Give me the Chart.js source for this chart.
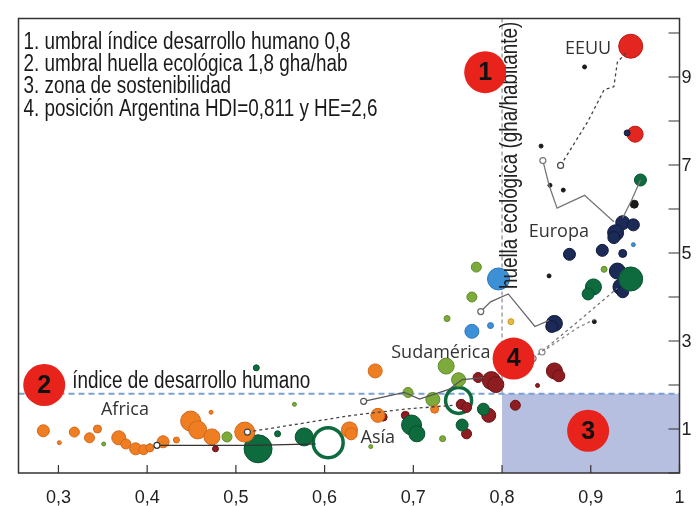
<!DOCTYPE html>
<html>
<head>
<meta charset="utf-8">
<script src="https://cdn.jsdelivr.net/npm/chart.js@4.4.0/dist/chart.umd.min.js"></script>
<style>
  html, body { margin: 0; padding: 0; background: #fff; }
  canvas { display: block; }
</style>
</head>
<body>
<canvas id="hdiChart" width="698" height="506"></canvas>
<script>
// ejes
const xTicks = [0.3, 0.4, 0.5, 0.6, 0.7, 0.8, 0.9, 1];
const yTicks = [1, 3, 5, 7, 9];
const yMinorTicks = [0, 2, 4, 6, 8, 10];
const hdiLimit = 0.8;   // umbral IDH
const heLimit = 1.8;    // umbral huella ecológica

// países: [IDH, huella (gha/hab), tamaño burbuja]
const orangePts = [
  [0.283, 0.96, 6], [0.301, 0.69, 2], [0.318, 0.93, 5], [0.335, 0.80, 5], [0.344, 1.00, 4],
  [0.368, 0.80, 7], [0.376, 0.66, 5], [0.387, 0.55, 6], [0.396, 0.53, 5], [0.403, 0.57, 4],
  [0.418, 0.71, 6], [0.433, 0.75, 3], [0.449, 1.18, 10], [0.457, 0.98, 9], [0.472, 1.38, 2],
  [0.473, 0.82, 8], [0.510, 0.93, 10], [0.628, 0.98, 8], [0.657, 2.32, 7], [0.660, 1.31, 7],
  [0.630, 0.89, 6], [0.724, 1.45, 4]
];
const oliveGreenPts = [
  [0.351, 0.66, 2], [0.490, 0.82, 5], [0.566, 1.56, 2], [0.771, 4.68, 5], [0.766, 4.00, 5],
  [0.738, 3.51, 3], [0.737, 2.43, 8], [0.751, 2.12, 7], [0.694, 1.83, 5], [0.722, 1.67, 7],
  [0.915, 4.63, 3], [0.733, 0.78, 3], [0.652, 0.60, 2], [0.403, 0.62, 2]
];
const darkGreenPts = [
  [0.525, 0.55, 14], [0.547, 0.89, 3], [0.577, 0.82, 9], [0.523, 2.39, 3], [0.698, 1.09, 10],
  [0.704, 0.89, 8], [0.779, 1.45, 6], [0.755, 1.09, 6], [0.903, 4.23, 8], [0.897, 4.07, 6],
  [0.945, 4.41, 12], [0.956, 6.66, 6]
];
const worldRings = [[0.604, 0.69, 15], [0.751, 1.65, 13]];
const maroonPts = [
  [0.477, 0.55, 3], [0.691, 1.31, 4], [0.666, 1.27, 4], [0.754, 1.56, 5], [0.760, 1.49, 5],
  [0.785, 1.31, 7], [0.760, 0.89, 5], [0.773, 2.17, 5], [0.788, 2.10, 9], [0.793, 2.01, 8],
  [0.815, 1.54, 5], [0.859, 2.32, 8], [0.864, 2.21, 6], [0.840, 1.99, 2]
];
const navyPts = [
  [0.936, 5.69, 7], [0.928, 5.46, 8], [0.948, 5.64, 6], [0.926, 5.35, 6], [0.876, 4.97, 6],
  [0.913, 5.06, 6], [0.936, 4.99, 4], [0.930, 4.59, 8], [0.934, 4.23, 8], [0.936, 4.12, 6],
  [0.859, 3.40, 8], [0.856, 3.33, 6], [0.941, 7.73, 3]
];
const blackPts = [
  [0.853, 4.48, 2], [0.854, 6.54, 2], [0.869, 6.43, 2], [0.893, 9.23, 2], [0.949, 6.11, 4],
  [0.904, 3.44, 2], [0.844, 7.43, 2]
];
const lightBluePts = [[0.796, 4.41, 11], [0.766, 3.22, 7], [0.787, 3.35, 3], [0.948, 5.19, 2]];
const redPts = [[0.945, 9.70, 12], [0.950, 7.70, 8]];
const yellowPts = [[0.810, 3.44, 3]];
const tealPts = [[0.809, 2.73, 3]];

// trayectorias regionales [IDH, huella]
const africaPath = [[0.411, 0.63], [0.52, 0.63], [0.59, 0.66]];
const asiaPath = [[0.513, 0.93], [0.631, 1.31], [0.69, 1.45], [0.745, 1.54]];
const sudamericaPath = [[0.644, 1.63], [0.69, 1.83], [0.707, 1.68], [0.74, 1.90], [0.755, 2.12], [0.78, 2.17]];
const europaLowPath = [[0.776, 3.67], [0.787, 3.89], [0.807, 4.07], [0.837, 3.33], [0.853, 3.47]];
const europaHighPath = [[0.846, 7.10], [0.853, 6.54], [0.862, 6.02], [0.893, 6.31], [0.926, 5.71]];
const eeuuPath = [[0.866, 6.99], [0.897, 8.00], [0.915, 8.71], [0.926, 8.78], [0.930, 9.34], [0.94, 9.55]];
const europaDash1 = [[0.835, 2.60], [0.88, 3.35], [0.93, 4.20]];
const europaDash2 = [[0.845, 2.75], [0.885, 3.30], [0.905, 3.50]];
const nordicPath = [[0.956, 6.66], [0.946, 6.20], [0.936, 5.80]];

// notas
const markers = [['1', 0.781, 9.11], ['2', 0.284, 2.00], ['3', 0.897, 0.96], ['4', 0.813, 2.60]];
const regionLabels = [
  ['EEUU', 0.897, 9.64], ['Europa', 0.864, 5.49], ['Sudamérica', 0.731, 2.73],
  ['Asía', 0.660, 0.80], ['Africa', 0.375, 1.44]
];
const legendLines = [
  '1. umbral índice desarrollo humano 0,8',
  '2. umbral huella ecológica 1,8 gha/hab',
  '3. zona de sostenibilidad',
  '4. posición Argentina HDI=0,811 y HE=2,6'
];

function bubbles(pts, fill, edge) {
  return {
    type: 'bubble',
    order: 1,
    data: pts.map(p => ({ x: p[0], y: p[1], r: p[2] })),
    backgroundColor: fill,
    borderColor: edge,
    borderWidth: 1
  };
}

function path(pts, color, dash, startMark = true) {
  return {
    type: 'line',
    order: 0,
    data: pts.map(p => ({ x: p[0], y: p[1] })),
    borderColor: color,
    borderWidth: 1.3,
    borderDash: dash,
    fill: false,
    pointRadius: pts.map((p, i) => (i === 0 && startMark) ? 3 : 0),
    pointBackgroundColor: '#fff',
    pointBorderColor: color,
    pointBorderWidth: 1.2
  };
}

function narrowText(ctx, text, px, py, size, align, rot) {
  ctx.save();
  ctx.translate(px, py);
  if (rot) ctx.rotate(rot);
  ctx.scale(0.82, 1);
  ctx.font = size + 'px "Liberation Sans", Arial, sans-serif';
  ctx.textAlign = align;
  ctx.textBaseline = 'middle';
  ctx.fillText(text, 0, 0);
  ctx.restore();
}

const overlay = {
  id: 'overlay',
  beforeDatasetsDraw(chart) {
    const { ctx, chartArea: a, scales: { x, y } } = chart;
    const xl = x.getPixelForValue(hdiLimit);
    const yl = y.getPixelForValue(heLimit);
    ctx.save();
    ctx.fillStyle = '#b6bfe0';
    ctx.fillRect(xl, yl, a.right - xl, a.bottom - yl);

    ctx.setLineDash([4, 3]);
    ctx.strokeStyle = '#8c8c8c';
    ctx.lineWidth = 1.2;
    ctx.beginPath();
    ctx.moveTo(xl, a.top);
    ctx.lineTo(xl, yl);
    ctx.stroke();

    ctx.setLineDash([6, 4]);
    ctx.strokeStyle = '#7d9fd2';
    ctx.lineWidth = 2;
    ctx.beginPath();
    ctx.moveTo(a.left, yl);
    ctx.lineTo(a.right, yl);
    ctx.stroke();
    ctx.restore();
  },
  afterDatasetsDraw(chart) {
    const { ctx, chartArea: a, scales: { x, y } } = chart;
    ctx.save();

    // eje vertical rotulado
    ctx.fillStyle = '#222';
    narrowText(ctx, 'huella ecológica (gha/habitante)', x.getPixelForValue(hdiLimit) + 9,
      (a.top + y.getPixelForValue(4.2)) / 2 + 2, 23, 'center', -Math.PI / 2);

    // leyenda
    ctx.fillStyle = '#1a1a1a';
    legendLines.forEach((t, i) => narrowText(ctx, t, a.left + 5, a.top + 24 + i * 22.3, 23, 'left'));

    narrowText(ctx, 'índice de desarrollo humano', x.getPixelForValue(0.3155), y.getPixelForValue(2.07), 23, 'left');

    // regiones
    ctx.fillStyle = '#333';
    ctx.font = '18px "Open Sans", sans-serif';
    ctx.textAlign = 'center';
    ctx.textBaseline = 'middle';
    regionLabels.forEach(l => ctx.fillText(l[0], x.getPixelForValue(l[1]), y.getPixelForValue(l[2])));

    // marcadores numerados
    markers.forEach(m => {
      const px = x.getPixelForValue(m[1]);
      const py = y.getPixelForValue(m[2]);
      ctx.beginPath();
      ctx.arc(px, py, 21, 0, Math.PI * 2);
      ctx.fillStyle = '#e8231c';
      ctx.fill();
      ctx.fillStyle = '#111';
      ctx.font = 'bold 25px "Liberation Sans", Arial, sans-serif';
      ctx.fillText(m[0], px, py + 1);
    });

    // marco y marcas hacia dentro
    ctx.strokeStyle = '#333';
    ctx.lineWidth = 1.5;
    ctx.strokeRect(a.left, a.top, a.right - a.left, a.bottom - a.top);
    ctx.lineWidth = 1.2;
    ctx.beginPath();
    xTicks.forEach(v => {
      const px = x.getPixelForValue(v);
      ctx.moveTo(px, a.bottom);
      ctx.lineTo(px, a.bottom - 8);
    });
    yTicks.concat(yMinorTicks).forEach(v => {
      const py = y.getPixelForValue(v);
      ctx.moveTo(a.right, py);
      ctx.lineTo(a.right - 11, py);
    });
    ctx.stroke();

    // rótulos del eje derecho
    ctx.fillStyle = '#222';
    ctx.font = '18px "Liberation Sans", Arial, sans-serif';
    ctx.textAlign = 'left';
    ctx.textBaseline = 'middle';
    yTicks.forEach(v => ctx.fillText(String(v), a.right + 2, y.getPixelForValue(v) + 1));
    ctx.restore();
  }
};

const ctx = document.getElementById('hdiChart').getContext('2d');

new Chart(ctx, {
  type: 'bubble',
  data: {
    datasets: [
      bubbles(orangePts, '#ef7d22', '#d4661a'),
      bubbles(oliveGreenPts, '#7dab3b', '#5f8a2b'),
      bubbles(darkGreenPts, '#0d6b3e', '#08502d'),
      bubbles(maroonPts, '#8e1d22', '#6b1216'),
      bubbles(navyPts, '#1c2a57', '#111a3a'),
      bubbles(blackPts, '#1a1a1a', '#1a1a1a'),
      bubbles(lightBluePts, '#3d8fd6', '#2f78bb'),
      bubbles(redPts, '#e3261f', '#b81b15'),
      bubbles(yellowPts, '#e8b840', '#c99a2a'),
      bubbles(tealPts, '#1aa5a0', '#138480'),
      {
        type: 'bubble',
        order: 1,
        data: worldRings.map(p => ({ x: p[0], y: p[1], r: p[2] })),
        backgroundColor: 'rgba(255,255,255,0)',
        borderColor: '#0d6b3e',
        borderWidth: 3.5
      },
      path(africaPath, '#333', []),
      path(asiaPath, '#444', [3, 3]),
      path(sudamericaPath, '#555', []),
      path(europaLowPath, '#666', []),
      path(europaHighPath, '#777', []),
      path(eeuuPath, '#444', [3, 3]),
      path(europaDash1, '#777', [3, 3]),
      path(europaDash2, '#888', [3, 3]),
      path(nordicPath, '#777', [], false)
    ]
  },
  options: {
    responsive: false,
    animation: false,
    devicePixelRatio: 1,
    layout: { padding: { left: 7, top: 8, right: 0, bottom: 0 } },
    plugins: {
      legend: { display: false },
      tooltip: { enabled: false }
    },
    scales: {
      x: {
        type: 'linear',
        min: 0.255,
        max: 1,
        grid: { display: false },
        border: { display: false },
        afterBuildTicks: s => { s.ticks = xTicks.map(v => ({ value: v })); },
        afterFit: s => { s.height = 33; },
        ticks: {
          padding: 6,
          color: '#222',
          font: { family: '"Liberation Sans", Arial, sans-serif', size: 18 },
          callback: v => v === 1 ? '1' : v.toFixed(1).replace('.', ',')
        }
      },
      y: {
        type: 'linear',
        position: 'right',
        min: 0,
        max: 10.33,
        grid: { display: false },
        border: { display: false },
        afterBuildTicks: s => { s.ticks = yTicks.map(v => ({ value: v })); },
        afterFit: s => { s.width = 18; },
        ticks: { display: false }
      }
    }
  },
  plugins: [overlay]
});
</script>
</body>
</html>
